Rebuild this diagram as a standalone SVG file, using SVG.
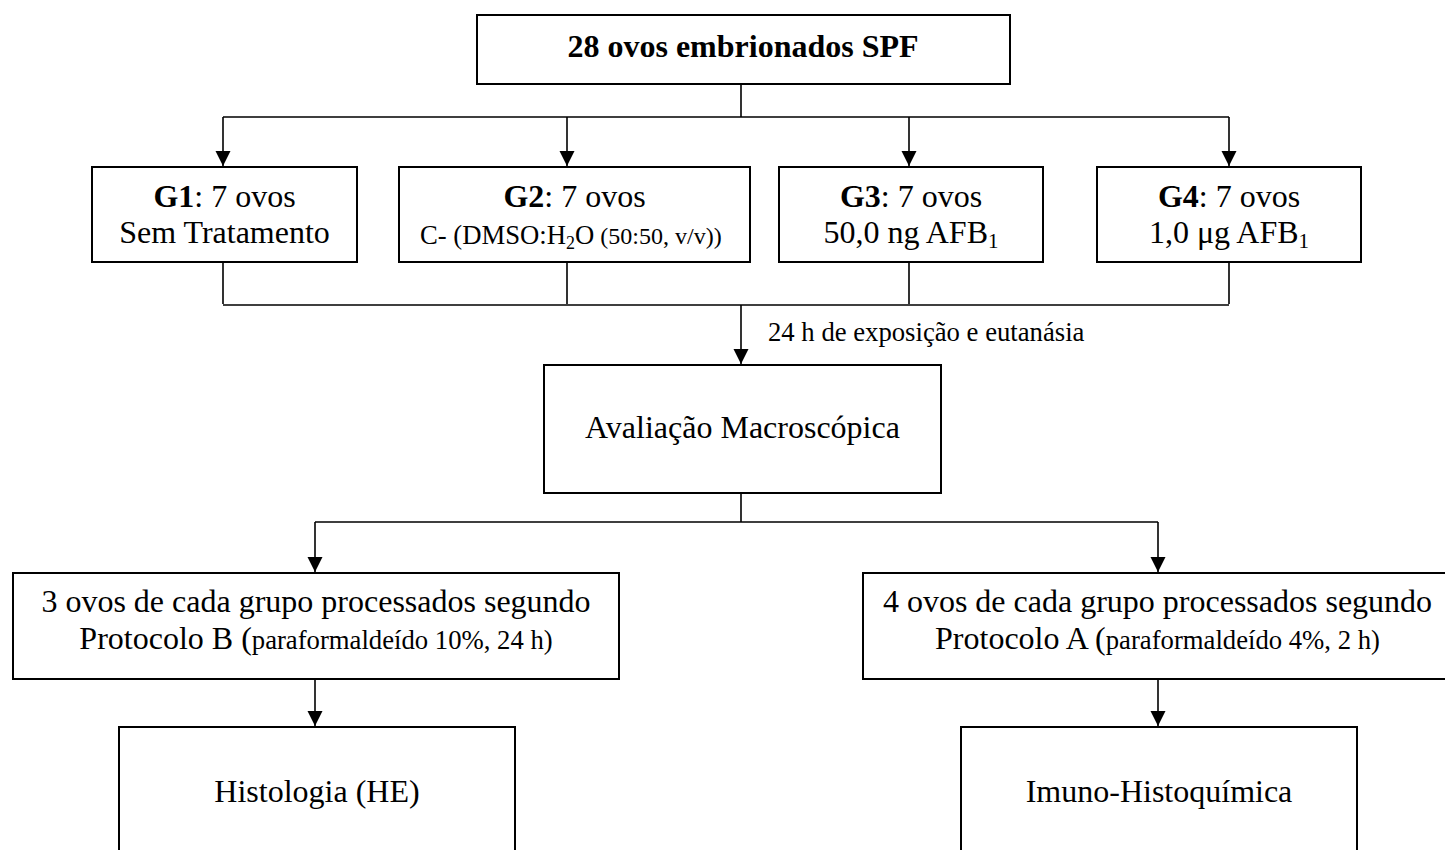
<svg xmlns="http://www.w3.org/2000/svg" width="1445" height="850" viewBox="0 0 1445 850">
<style>
text{font-family:"Liberation Serif","Times New Roman",serif;fill:#000;}
.t{font-size:32px;text-anchor:middle;}
.s{font-size:26.7px;}
.b{font-weight:bold;}
.box{fill:#fff;stroke:#000;stroke-width:2;}
.c{fill:none;stroke:#000;stroke-width:1.6;}
.a{fill:none;stroke:#000;stroke-width:1.6;marker-end:url(#ah);}
</style>
<defs>
<marker id="ah" markerUnits="userSpaceOnUse" markerWidth="16" markerHeight="16" refX="15" refY="7.5" orient="auto">
<path d="M0,0 L15,7.5 L0,15 z" fill="#000"/>
</marker>
</defs>
<rect width="1445" height="850" fill="#fff"/>
<g id="connectors">
<path class="c" d="M741,84 V117 M223,117 H1229"/>
<path class="a" d="M223,117 V166"/>
<path class="a" d="M567,117 V166"/>
<path class="a" d="M909,117 V166"/>
<path class="a" d="M1229,117 V166"/>
<path class="c" d="M223,262 V304 M567,262 V304 M909,262 V304 M1229,262 V304 M223,305 H1229"/>
<path class="a" d="M741,305 V364"/>
<path class="c" d="M741,493 V522 M315,522 H1158"/>
<path class="a" d="M315,522 V572"/>
<path class="a" d="M1158,522 V572"/>
<path class="a" d="M315,679 V726"/>
<path class="a" d="M1158,679 V726"/>
<text class="s" x="768" y="341">24 h de exposição e eutanásia</text>
</g>
<g id="n0">
<rect class="box" x="477" y="15" width="533" height="69"/>
<text class="t b" x="743" y="57">28 ovos embrionados SPF</text>
</g>
<g id="g1">
<rect class="box" x="92" y="167" width="265" height="95"/>
<text class="t" x="224.5" y="207"><tspan class="b">G1</tspan>: 7 ovos</text>
<text class="t" x="224.5" y="243">Sem Tratamento</text>
</g>
<g id="g2">
<rect class="box" x="399" y="167" width="351" height="95"/>
<text class="t" x="574.5" y="207"><tspan class="b">G2</tspan>: 7 ovos</text>
<text x="420" y="244" style="font-size:26.7px">C- (DMSO:H<tspan style="font-size:18px" dy="5">2</tspan><tspan dy="-5">O</tspan><tspan style="font-size:24px"> (50:50, v/v))</tspan></text>
</g>
<g id="g3">
<rect class="box" x="779" y="167" width="264" height="95"/>
<text class="t" x="911" y="207"><tspan class="b">G3</tspan>: 7 ovos</text>
<text class="t" x="911" y="243">50,0 ng AFB<tspan style="font-size:21px" dy="5">1</tspan></text>
</g>
<g id="g4">
<rect class="box" x="1097" y="167" width="264" height="95"/>
<text class="t" x="1229" y="207"><tspan class="b">G4</tspan>: 7 ovos</text>
<text class="t" x="1229" y="243">1,0 μg AFB<tspan style="font-size:21px" dy="5">1</tspan></text>
</g>
<g id="n1">
<rect class="box" x="544" y="365" width="397" height="128"/>
<text class="t" x="742.5" y="438">Avaliação Macroscópica</text>
</g>
<g id="n2">
<rect class="box" x="13" y="573" width="606" height="106"/>
<text class="t" x="316" y="612">3 ovos de cada grupo processados segundo</text>
<text class="t" x="316" y="649">Protocolo B (<tspan style="font-size:26.7px">paraformaldeído 10%, 24 h)</tspan></text>
</g>
<g id="n3">
<rect class="box" x="863" y="573" width="590" height="106"/>
<text class="t" x="1157.5" y="612">4 ovos de cada grupo processados segundo</text>
<text class="t" x="1157.5" y="649">Protocolo A (<tspan style="font-size:26.7px">paraformaldeído 4%, 2 h)</tspan></text>
</g>
<g id="n4">
<rect class="box" x="119" y="727" width="396" height="140"/>
<text class="t" x="317" y="802">Histologia (HE)</text>
</g>
<g id="n5">
<rect class="box" x="961" y="727" width="396" height="140"/>
<text class="t" x="1159" y="802">Imuno-Histoquímica</text>
</g>
</svg>
